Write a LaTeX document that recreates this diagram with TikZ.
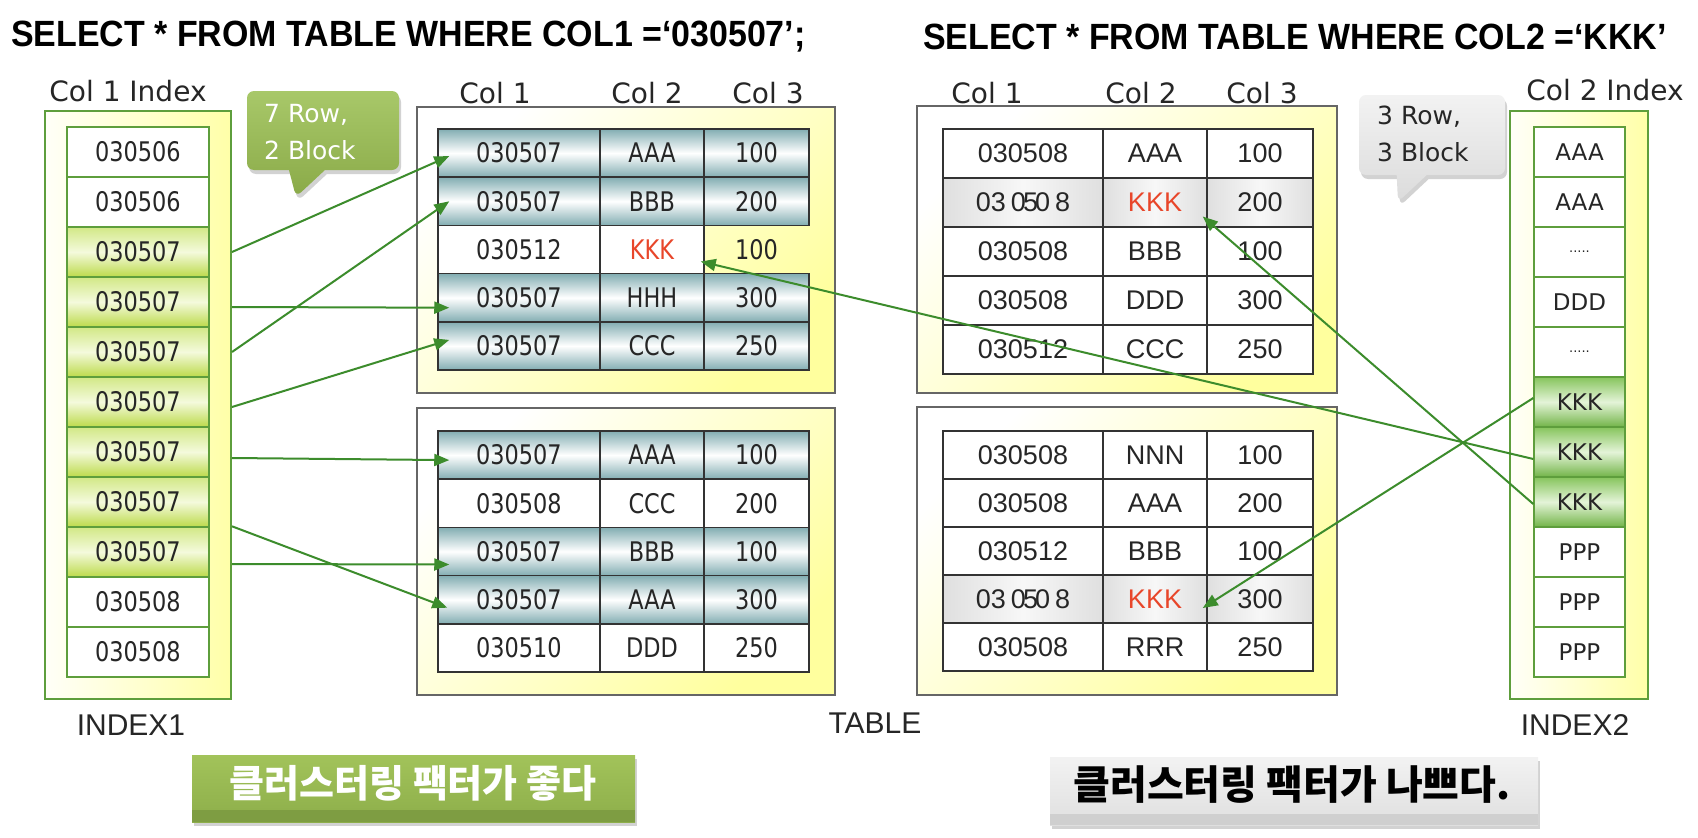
\documentclass[tikz,border=0pt]{standalone}
\usepackage{fontspec}
\usetikzlibrary{shadows,arrows.meta,calc,shapes.callouts}
\newfontfamily\dv{DejaVu Sans}
\newfontfamily\tah[FakeStretch=0.83]{DejaVu Sans}
\newfontfamily\ari{Liberation Sans}
\newfontfamily\ttl[FakeStretch=0.93]{Liberation Sans}
\newfontfamily\kr{Noto Sans CJK KR}
\definecolor{idxborder}{HTML}{5E9E3C}
\definecolor{idxyel}{HTML}{FFFFA8}
\definecolor{lg1}{HTML}{D2E886}
\definecolor{lg2}{HTML}{F4FADC}
\definecolor{lg3}{HTML}{BCDA4A}
\definecolor{kg1}{HTML}{86C45C}
\definecolor{kg2}{HTML}{E4F4D8}
\definecolor{kg3}{HTML}{72B448}
\definecolor{teal1}{HTML}{82ADB2}
\definecolor{arrowg}{HTML}{3C8C2C}
\definecolor{kred}{HTML}{E8462A}
\definecolor{tblyel}{HTML}{FFFF9E}
\definecolor{callg1}{HTML}{A8C869}
\definecolor{callg2}{HTML}{8AAA48}
\definecolor{btg1}{HTML}{A2C35A}
\definecolor{btg2}{HTML}{8DAE4A}
\definecolor{btg3}{HTML}{7E9D42}
\definecolor{txt}{HTML}{262626}
\definecolor{tline}{HTML}{333333}
\definecolor{tborder}{HTML}{666666}
\newcommand\kkk{\textcolor{kred}{KKK}}
\newcommand\oddnum{03\kern5pt0\kern-3pt5\kern-3pt0\kern5pt8}
\newcommand\sdots{{\fontsize{13}{13}\selectfont .....}}
\begin{document}
\begin{tikzpicture}[x=1pt,y=-1pt]
\tikzset{
  every node/.style={inner sep=0pt},
  idxbox/.style={draw=idxborder, line width=2pt, left color=idxyel!8, right color=idxyel},
  tbox/.style={draw=tborder, line width=2pt, left color=white, right color=tblyel, shading angle=45},
  icell/.style={draw=idxborder, line width=1.4pt, fill=white, minimum width=142pt, minimum height=50pt, font=\tah\fontsize{27}{30}\selectfont, text=txt},
  rcell/.style={draw=idxborder, line width=1.4pt, fill=white, minimum width=91pt, minimum height=50pt, font=\dv\fontsize{23}{26}\selectfont, text=txt},
  tcellL/.style={draw=tline, line width=1.5pt, minimum height=48.2pt, font=\tah\fontsize{27}{30}\selectfont, text=txt},
  tcellR/.style={draw=tline, line width=1.5pt, font=\ari\fontsize{27}{30}\selectfont, text=txt},
  lgreen/.style={top color=lg1, bottom color=lg3, middle color=lg2},
  kgreen/.style={top color=kg1, bottom color=kg3, middle color=kg2},
  tealc/.style={top color=teal1, bottom color=teal1, middle color=white},
  grayc/.style={left color=gray!25, right color=gray!25, middle color=gray!6},
  whitec/.style={fill=white},
  nocell/.style={draw=none},
  lab/.style={font=\dv\fontsize{28}{30}\selectfont, text=txt},
  labA/.style={font=\ari\fontsize{30}{32}\selectfont, text=txt},
  qtitle/.style={anchor=west, font=\ttl\bfseries\fontsize{36.5}{40}\selectfont, text=black},
  calltxt/.style={anchor=west, font=\dv\fontsize{25}{28}\selectfont},
  conn/.style={draw=arrowg, line width=2pt, -{Triangle[length=15pt,width=12pt]}},
  shd/.style={drop shadow={opacity=0.35, shadow xshift=2pt, shadow yshift=-4pt}}
}
\fill[white] (0,0) rectangle (1698,838);

% titles
\node[qtitle] (q1) at (11,37) {SELECT * FROM TABLE WHERE COL1 =‘030507’;};
\node[qtitle] (q2) at (923,37) {SELECT * FROM TABLE WHERE COL2 =‘KKK’};

% index 1
\node[idxbox, minimum width=186pt, minimum height=588pt] (idx1) at (138,405) {};
\foreach \t [count=\i from 0] in {030506,030506,030507,030507,030507,030507,030507,030507,030507,030508,030508}{
  \ifnum\i<2 \def\st{whitec}\else\ifnum\i>8 \def\st{whitec}\else\def\st{lgreen}\fi\fi
  \node[icell,\st] (L\i) at (138,{152+50*\i}) {\t};
}
\node[lab] (idx1t) at (128,91) {Col 1 Index};
\node[labA] (idx1b) at (131,725) {INDEX1};

% index 2
\node[idxbox, minimum width=138pt, minimum height=588pt] (idx2) at (1579,405) {};
\foreach \t/\st [count=\i from 0] in {AAA/whitec,AAA/whitec,\sdots/whitec,DDD/whitec,\sdots/whitec,KKK/kgreen,KKK/kgreen,KKK/kgreen,PPP/whitec,PPP/whitec,PPP/whitec}{
  \node[rcell,\st] (R\i) at (1579.5,{152+50*\i}) {\t};
}
\node[lab] (idx2t) at (1605,90) {Col 2 Index};
\node[labA] (idx2b) at (1575,725) {INDEX2};

% tables outer
\node[tbox, minimum width=418pt, minimum height=286pt] (tb1) at (626,250) {};
\node[tbox, minimum width=418pt, minimum height=287pt] (tb2) at (626,551.5) {};
\node[tbox, minimum width=420pt, minimum height=287pt] (tb3) at (1127,249.5) {};
\node[tbox, minimum width=420pt, minimum height=288pt] (tb4) at (1127,551) {};

% table 1
\foreach \r/\a/\b/\c/\st/\sc in {1/030507/AAA/100/tealc/tealc, 2/030507/BBB/200/tealc/tealc, 3/030512/\kkk/100/whitec/nocell, 4/030507/HHH/300/tealc/tealc, 5/030507/CCC/250/tealc/tealc}{
  \node[tcellL,\st,minimum width=162pt] (T1-\r-1) at (519,{129+48.2*(\r-0.5)}) {\a};
  \node[tcellL,\st,minimum width=104pt] (T1-\r-2) at (652,{129+48.2*(\r-0.5)}) {\b};
  \node[tcellL,\sc,minimum width=105pt] (T1-\r-3) at (756.5,{129+48.2*(\r-0.5)}) {\c};
}
% table 2
\foreach \r/\a/\b/\c/\st in {1/030507/AAA/100/tealc, 2/030508/CCC/200/whitec, 3/030507/BBB/100/tealc, 4/030507/AAA/300/tealc, 5/030510/DDD/250/whitec}{
  \node[tcellL,\st,minimum width=162pt] (T2-\r-1) at (519,{431+48.2*(\r-0.5)}) {\a};
  \node[tcellL,\st,minimum width=104pt] (T2-\r-2) at (652,{431+48.2*(\r-0.5)}) {\b};
  \node[tcellL,\st,minimum width=105pt] (T2-\r-3) at (756.5,{431+48.2*(\r-0.5)}) {\c};
}
% table 3
\foreach \r/\a/\b/\c/\st in {1/030508/AAA/100/whitec, 2/\oddnum/\kkk/200/grayc, 3/030508/BBB/100/whitec, 4/030508/DDD/300/whitec, 5/030512/CCC/250/whitec}{
  \node[tcellR,\st,minimum width=160pt,minimum height=49pt] (T3-\r-1) at (1023,{129+49*(\r-0.5)}) {\a};
  \node[tcellR,\st,minimum width=104pt,minimum height=49pt] (T3-\r-2) at (1155,{129+49*(\r-0.5)}) {\b};
  \node[tcellR,\st,minimum width=106pt,minimum height=49pt] (T3-\r-3) at (1260,{129+49*(\r-0.5)}) {\c};
}
% table 4
\foreach \r/\a/\b/\c/\st in {1/030508/NNN/100/whitec, 2/030508/AAA/200/whitec, 3/030512/BBB/100/whitec, 4/\oddnum/\kkk/300/grayc, 5/030508/RRR/250/whitec}{
  \node[tcellR,\st,minimum width=160pt,minimum height=48pt] (T4-\r-1) at (1023,{431+48*(\r-0.5)}) {\a};
  \node[tcellR,\st,minimum width=104pt,minimum height=48pt] (T4-\r-2) at (1155,{431+48*(\r-0.5)}) {\b};
  \node[tcellR,\st,minimum width=106pt,minimum height=48pt] (T4-\r-3) at (1260,{431+48*(\r-0.5)}) {\c};
}

% headers
\node[lab] (h11) at (495,93) {Col 1};
\node[lab] (h12) at (647,93) {Col 2};
\node[lab] (h13) at (768,93) {Col 3};
\node[lab] (h21) at (987,93) {Col 1};
\node[lab] (h22) at (1141,93) {Col 2};
\node[lab] (h23) at (1262,93) {Col 3};
\node[labA] (tlab) at (875,723) {TABLE};

% callouts
\node[rectangle callout, callout absolute pointer={(296,197)}, callout pointer width=36pt,
      minimum width=152pt, minimum height=79pt, rounded corners=7pt,
      top color=callg1, bottom color=callg2, shd] (co1) at (323,130.5) {};
\node[calltxt, text=white] (co1a) at (264,115) {7 Row,};
\node[calltxt, text=white] (co1b) at (264,150) {2 Block};

\node[rectangle callout, callout absolute pointer={(1398,202)}, callout pointer width=30pt,
      minimum width=146pt, minimum height=80pt, rounded corners=7pt,
      top color=gray!10, bottom color=gray!28, shd] (co2) at (1432,135) {};
\node[calltxt, text=txt] (co2a) at (1377,117) {3 Row,};
\node[calltxt, text=txt] (co2b) at (1377,152) {3 Block};

% buttons
\node[top color=btg1, bottom color=btg2, minimum width=443pt, minimum height=67pt, shd] (b1) at (413.5,788.5) {};
\fill[btg3] (192,810) rectangle (635,822);
\node[font=\kr\bfseries\fontsize{38}{40}\selectfont, text=white] (b1t) at (413,783) {클러스터링 팩터가 좋다};

\node[top color=gray!10, bottom color=gray!25, minimum width=488pt, minimum height=68pt, shd] (b2) at (1294,791) {};
\fill[gray!38] (1050,814) rectangle (1538,825);
\node[font=\kr\bfseries\fontsize{40}{44}\selectfont, text=black] (b2t) at (1292,785) {클러스터링 팩터가 나쁘다.};

% left connectors
\draw[conn] (idx1.east |- L2) -- ($(T1-1-1.west)+(12,3)$);
\draw[conn] (idx1.east |- L4) -- ($(T1-2-1.west)+(12,0)$);
\draw[conn] ($(idx1.east |- L3)+(0,5)$) -- ($(T1-4-1.west)+(12,10)$);
\draw[conn] ($(idx1.east |- L5)+(0,5)$) -- ($(T1-5-1.west)+(12,-6)$);
\draw[conn] ($(idx1.east |- L6)+(0,6)$) -- ($(T2-1-1.west)+(12,5)$);
\draw[conn] (idx1.east |- L8.north) -- ($(T2-4-1.west)+(10,8)$);
\draw[conn] ($(idx1.east |- L8)+(0,12)$) -- ($(T2-3-1.west)+(12,13)$);

% right connectors
\draw[conn] ($(R5.west)+(0,-4)$) -- ($(T4-4-2.east)+(-5,9)$);
\draw[conn] ($(R6.west)+(0,7)$) -- ($(T1-3-2.east)+(-4,12)$);
\draw[conn] ($(R7.west)+(0,2)$) -- ($(T3-2-2.east)+(-5,14)$);
\end{tikzpicture}
\end{document}
